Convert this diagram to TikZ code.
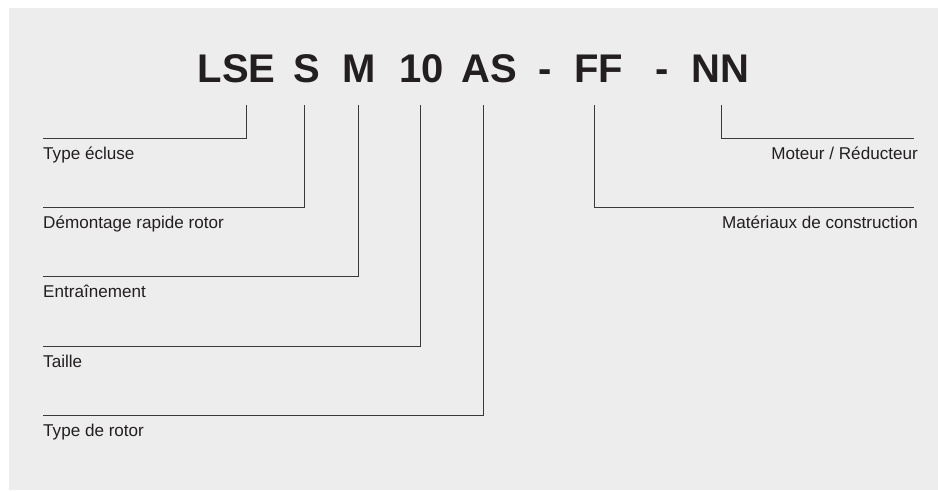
\documentclass[tikz,border=0pt]{standalone}
\usepackage{fontspec}
\setmainfont{Liberation Sans}
\usepackage{xcolor}
\definecolor{panelgray}{RGB}{237,237,237}
\definecolor{inkdark}{RGB}{35,31,32}
\definecolor{leadgray}{RGB}{58,58,58}

\begin{document}
\begin{tikzpicture}[
    x=1pt, y=-1pt,
    code/.style={font=\fontsize{40}{40}\selectfont\bfseries, text=inkdark,
                 anchor=base, inner sep=0pt},
    lead/.style={draw=leadgray, line width=0.9pt},
    descl/.style={font=\fontsize{17.1}{19}\selectfont, text=inkdark,
                  anchor=base west, inner sep=0pt},
    descr/.style={descl, anchor=base east},
]

% ── Panel ──────────────────────────────────────────────────────────────
\useasboundingbox[fill=white] (0,0) rectangle (938,491);
\fill[panelgray] (9,8) rectangle (938,490);

% ── Code line ──────────────────────────────────────────────────────────
\node[code] (lse)  at (236.5,82) {LSE};
\node[code] (s)    at (306.5,82) {S};
\node[code] (m)    at (359,82)   {M};
\node[code] (size) at (421.5,82) {10};
\node[code] (as)   at (489,82)   {AS};
\node[code] (dsha) at (545.5,82) {-};
\node[code] (ff)   at (598.5,82) {FF};
\node[code] (dshb) at (662,82)   {-};
\node[code] (nn)   at (720.5,82) {NN};

% ── Leader ends ────────────────────────────────────────────────────────
\coordinate (lse-t)  at (246,105);
\coordinate (s-t)    at (304,105);
\coordinate (m-t)    at (358,105);
\coordinate (size-t) at (420,105);
\coordinate (as-t)   at (483,105);
\coordinate (ff-t)   at (594,105);
\coordinate (nn-t)   at (721,105);

\coordinate (lse-e)  at (43,138);
\coordinate (s-e)    at (43,207.5);
\coordinate (m-e)    at (43,276.5);
\coordinate (size-e) at (43,346);
\coordinate (as-e)   at (43,415);
\coordinate (ff-e)   at (914,207.5);
\coordinate (nn-e)   at (914,138);

% ── Descriptions ───────────────────────────────────────────────────────
\node[descl] (ecluse)   at (43,159)   {Type écluse};
\node[descl] (demont)   at (43,228.5) {Démontage rapide rotor};
\node[descl] (entr)     at (43,297.5) {Entraînement};
\node[descl] (taille)   at (43,367)   {Taille};
\node[descl] (rotor)    at (43,436)   {Type de rotor};
\node[descr] (mat)      at (918,228.5) {Matériaux de construction};
\node[descr] (moteur)   at (918,159)   {Moteur / Réducteur};

% ── Leaders ────────────────────────────────────────────────────────────
\draw[lead] (lse-t)  |- (lse-e);
\draw[lead] (s-t)    |- (s-e);
\draw[lead] (m-t)    |- (m-e);
\draw[lead] (size-t) |- (size-e);
\draw[lead] (as-t)   |- (as-e);
\draw[lead] (ff-t)   |- (ff-e);
\draw[lead] (nn-t)   |- (nn-e);

\end{tikzpicture}
\end{document}
